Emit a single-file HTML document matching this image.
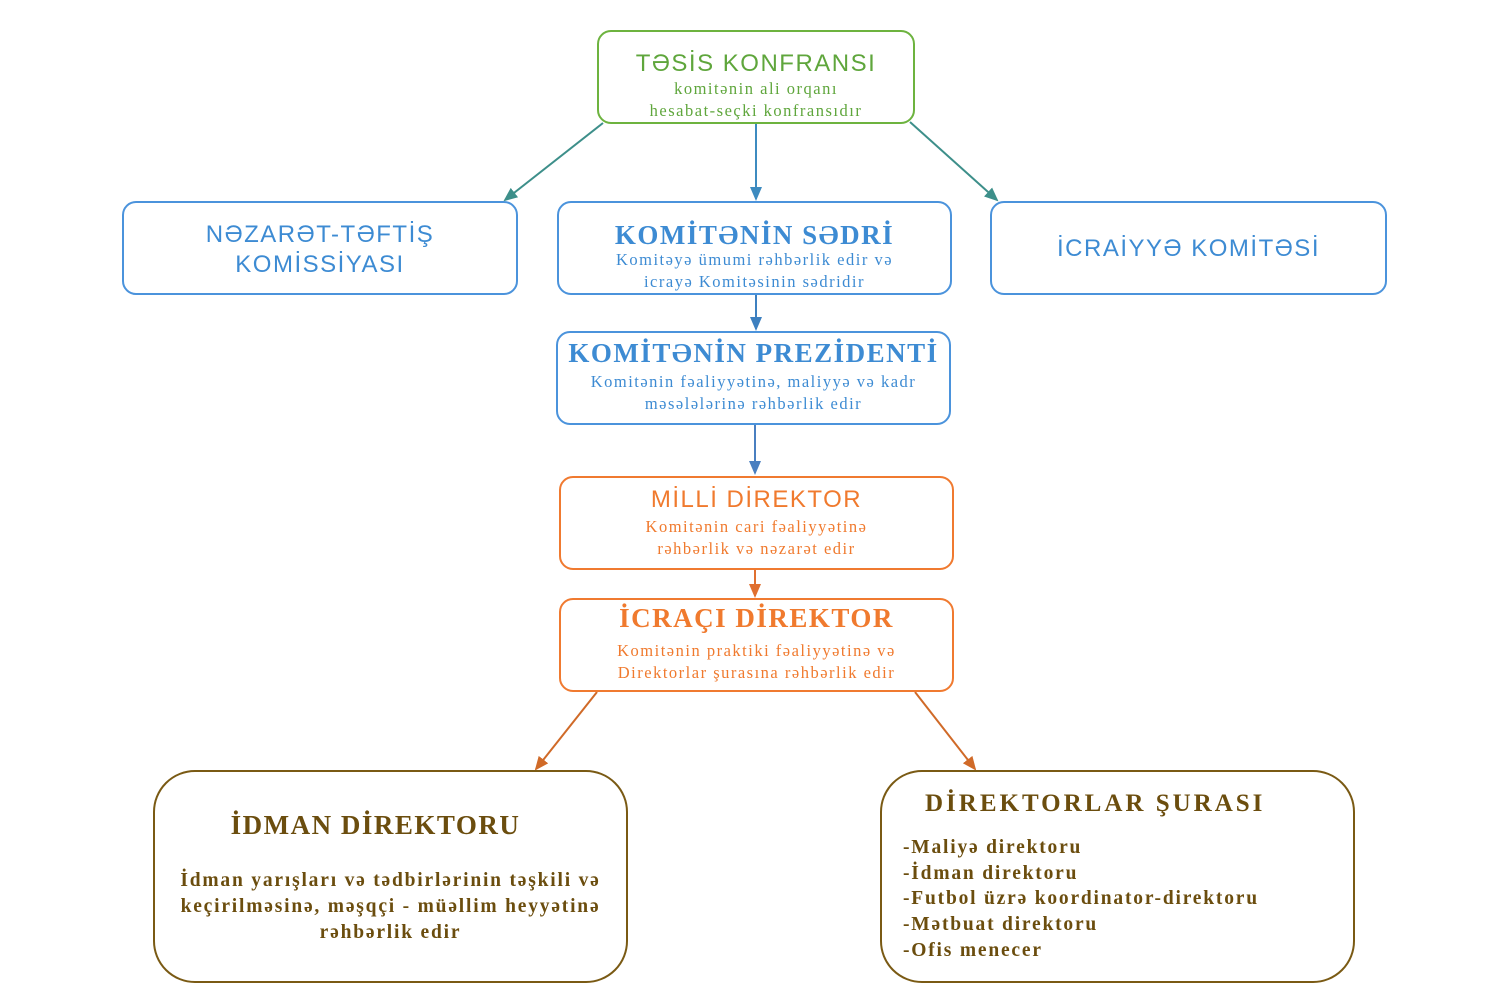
<!DOCTYPE html>
<html><head><meta charset="utf-8"><style>
body{margin:0;width:1500px;height:990px;background:#fff;position:relative;overflow:hidden}
.b{position:absolute;box-sizing:border-box;border:2.5px solid;border-radius:14px;background:#fff}
.t{position:absolute;left:-20px;right:-20px;text-align:center;white-space:nowrap}
.s{font-family:"Liberation Sans",sans-serif;font-size:24px;letter-spacing:1.5px}
.r{font-family:"Liberation Serif",serif;font-weight:bold;font-size:27px;letter-spacing:1.5px}
.d{font-family:"Liberation Serif",serif;font-size:16.5px;line-height:22px;letter-spacing:1.5px}
.g{color:#5fa63c;border-color:#6db33f}
.bl{color:#3d8bd3;border-color:#4b93dc}
.o{color:#f07a2e;border-color:#f07a30}
.br{color:#6b4d0e;border-color:#7a5a14}
.bd{font-family:"Liberation Serif",serif;font-weight:bold;font-size:19.5px;line-height:26px;letter-spacing:1.8px}
</style></head><body>
<svg width="1500" height="990" style="position:absolute;left:0;top:0">
<defs><marker id="a" markerWidth="8" markerHeight="8" refX="6" refY="4" orient="auto"><path d="M0,1 L7,4 L0,7z" fill="context-stroke"/></marker></defs>
<g stroke-width="2" fill="none">
<line x1="603" y1="123" x2="505" y2="200" stroke="#3d8f8a" marker-end="url(#a)"/>
<line x1="756" y1="124" x2="756" y2="199" stroke="#3d8bc0" marker-end="url(#a)"/>
<line x1="910" y1="122" x2="997" y2="200" stroke="#3d8f8a" marker-end="url(#a)"/>
<line x1="756" y1="295" x2="756" y2="329" stroke="#3d80c0" marker-end="url(#a)"/>
<line x1="755" y1="425" x2="755" y2="473" stroke="#4a7fc0" marker-end="url(#a)"/>
<line x1="755" y1="570" x2="755" y2="596" stroke="#e07030" marker-end="url(#a)"/>
<line x1="597" y1="692" x2="536" y2="769" stroke="#d06a28" marker-end="url(#a)"/>
<line x1="915" y1="692" x2="975" y2="769" stroke="#d06a28" marker-end="url(#a)"/>
</g></svg>

<div class="b g" style="left:597px;top:30px;width:318px;height:94px">
<div class="t s" style="top:18px">TƏSİS KONFRANSI</div>
<div class="t d" style="top:46px">komitənin ali orqanı<br>hesabat-seçki konfransıdır</div></div>

<div class="b bl" style="left:122px;top:201px;width:396px;height:94px">
<div class="t s" style="top:17px;line-height:30px">NƏZARƏT-TƏFTİŞ<br>KOMİSSİYASI</div></div>

<div class="b bl" style="left:557px;top:201px;width:395px;height:94px">
<div class="t r" style="top:17px">KOMİTƏNİN SƏDRİ</div>
<div class="t d" style="top:46px">Komitəyə ümumi rəhbərlik edir və<br>icrayə Komitəsinin sədridir</div></div>

<div class="b bl" style="left:990px;top:201px;width:397px;height:94px">
<div class="t s" style="top:32px">İCRAİYYƏ KOMİTƏSİ</div></div>

<div class="b bl" style="left:556px;top:331px;width:395px;height:94px">
<div class="t r" style="top:5px">KOMİTƏNİN PREZİDENTİ</div>
<div class="t d" style="top:38px">Komitənin fəaliyyətinə, maliyyə və kadr<br>məsələlərinə rəhbərlik edir</div></div>

<div class="b o" style="left:559px;top:476px;width:395px;height:94px">
<div class="t s" style="top:8px">MİLLİ DİREKTOR</div>
<div class="t d" style="top:38px">Komitənin cari fəaliyyətinə<br>rəhbərlik və nəzarət edir</div></div>

<div class="b o" style="left:559px;top:598px;width:395px;height:94px">
<div class="t r" style="top:3px">İCRAÇI DİREKTOR</div>
<div class="t d" style="top:40px">Komitənin praktiki fəaliyyətinə və<br>Direktorlar şurasına rəhbərlik edir</div></div>

<div class="b br" style="left:153px;top:770px;width:475px;height:213px;border-radius:42px">
<div class="t r" style="top:38px;left:-50px">İDMAN DİREKTORU</div>
<div class="t bd" style="top:96px">İdman yarışları və tədbirlərinin təşkili və<br>keçirilməsinə, məşqçi - müəllim heyyətinə<br>rəhbərlik edir</div></div>

<div class="b br" style="left:880px;top:770px;width:475px;height:213px;border-radius:42px">
<div class="r" style="position:absolute;left:43px;top:18px;font-size:25px;letter-spacing:3px;white-space:nowrap">DİREKTORLAR ŞURASI</div>
<div class="bd" style="position:absolute;left:21px;top:63px;line-height:25.7px;white-space:nowrap">-Maliyə direktoru<br>-İdman direktoru<br>-Futbol üzrə koordinator-direktoru<br>-Mətbuat direktoru<br>-Ofis menecer</div></div>
</body></html>
